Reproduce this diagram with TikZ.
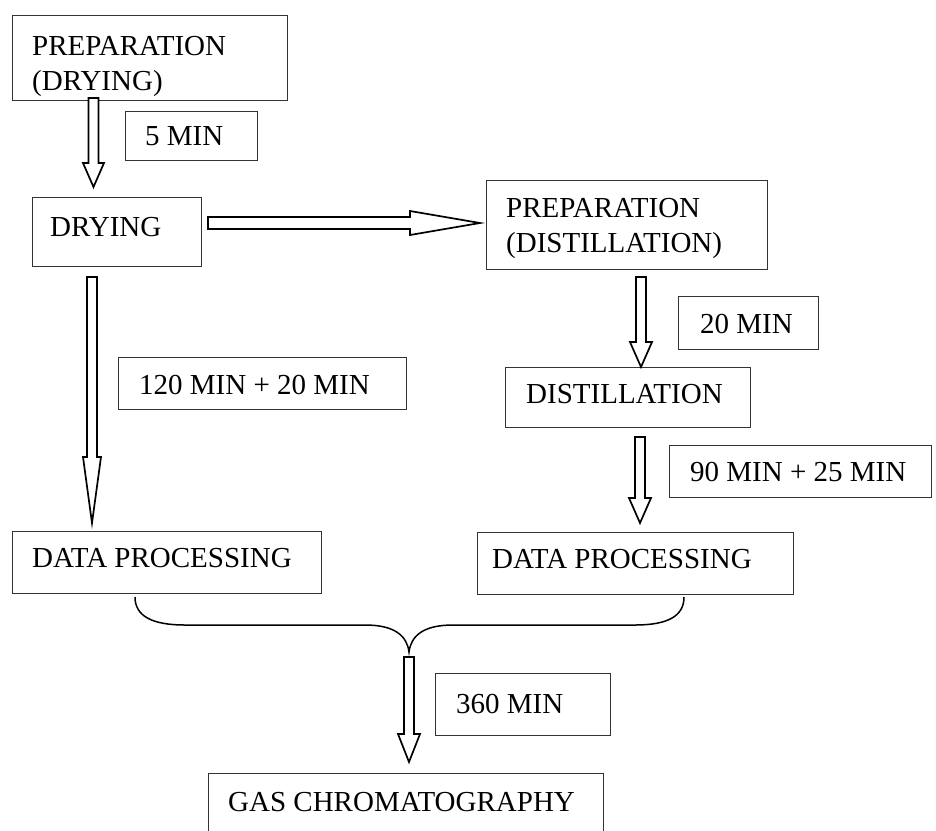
\documentclass[tikz,border=0pt]{standalone}
\usepackage{fontspec}
\setmainfont{Liberation Serif}
\usetikzlibrary{calc}
\tikzset{
  box/.style={draw=black!80, line width=1.1pt, inner sep=0pt, anchor=north west},
  lbl/.style={inner sep=0pt, anchor=base west, font=\fontsize{29}{35}\selectfont},
  mlbl/.style={inner sep=0pt, anchor=north west, align=left, font=\fontsize{29}{35}\selectfont},
  blk/.style={draw=black, line width=1.7pt, fill=white, line join=miter},
  bracestyle/.style={draw=black, line width=1.5pt}
}
\newcommand\vblock[4]{%
  \draw[blk] let \p1=(#1), \p2=(#2) in
    (\x1-5pt,\y1) -- (\x1-5pt,\y2+#3) -- (\x1-#4,\y2+#3) -- (\x1,\y2)
    -- (\x1+#4,\y2+#3) -- (\x1+5pt,\y2+#3) -- (\x1+5pt,\y1) -- cycle;}
\begin{document}
\begin{tikzpicture}[x=1pt,y=-1pt]
\useasboundingbox (0,0) rectangle (936,830);
% boxes
\node[box, minimum width=275pt, minimum height=85pt] (b1) at (12,15) {};
\node[mlbl] (t1) at (32,36) {PREPARATION\\(DRYING)};
\node[box, minimum width=132pt, minimum height=49pt] (m1) at (125,111) {};
\node[lbl] (tm1) at (145,145) {5 MIN};
\node[box, minimum width=169pt, minimum height=69pt] (b2) at (32,197) {};
\node[lbl] (t2) at (50,236) {DRYING};
\node[box, minimum width=281pt, minimum height=89pt] (b3) at (486,180) {};
\node[mlbl] (t3) at (506,198) {PREPARATION\\(DISTILLATION)};
\node[box, minimum width=140pt, minimum height=53pt] (m2) at (678,296) {};
\node[lbl] (tm2) at (700,333) {20 MIN};
\node[box, minimum width=245pt, minimum height=60pt] (b4) at (505,367) {};
\node[lbl] (t4) at (526,403) {DISTILLATION};
\node[box, minimum width=262pt, minimum height=52pt] (m3) at (669,445) {};
\node[lbl] (tm3) at (690,481) {90 MIN + 25 MIN};
\node[box, minimum width=288pt, minimum height=52pt] (m4) at (118,357) {};
\node[lbl] (tm4) at (139,394) {120 MIN + 20 MIN};
\node[box, minimum width=309pt, minimum height=62pt] (b5) at (12,531) {};
\node[lbl] (t5) at (32,567) {DATA PROCESSING};
\node[box, minimum width=316pt, minimum height=62pt] (b6) at (477,532) {};
\node[lbl] (t6) at (492,568) {DATA PROCESSING};
\node[box, minimum width=175pt, minimum height=62pt] (m5) at (435,673) {};
\node[lbl] (tm5) at (456,713) {360 MIN};
\node[box, minimum width=395pt, minimum height=80pt] (b7) at (208,773) {};
\node[lbl] (t7) at (228,811) {GAS CHROMATOGRAPHY};
% arrow end points
\coordinate (a1s) at (93.5,98);  \coordinate (a1e) at (93.5,187);
\coordinate (a2s) at (92,277);   \coordinate (a2e) at (92,523);
\coordinate (a3s) at (641,277);  \coordinate (a3e) at (641,367);
\coordinate (a4s) at (640,437);  \coordinate (a4e) at (640,523);
\coordinate (a5s) at (409,657);  \coordinate (a5e) at (409,762);
\coordinate (h1s) at (208,223);  \coordinate (h1e) at (480,223);
% vertical block arrows
\vblock{a1s}{a1e}{24pt}{10.5pt}
\vblock{a2s}{a2e}{66pt}{9pt}
\vblock{a3s}{a3e}{25pt}{11pt}
\vblock{a4s}{a4e}{25pt}{11pt}
\vblock{a5s}{a5e}{28pt}{11pt}
% horizontal block arrow
\draw[blk] let \p1=(h1s), \p2=(h1e) in
  (\x1,\y1+6pt) -- (\x2-70pt,\y1+6pt) -- (\x2-70pt,\y1+12pt) -- (\x2,\y1)
  -- (\x2-70pt,\y1-12pt) -- (\x2-70pt,\y1-6pt) -- (\x1,\y1-6pt) -- cycle;
% brace
\coordinate (brL) at (135,597);
\coordinate (brT) at (409,652);
\coordinate (brR) at (684,597);
\draw[bracestyle] (brL) .. controls (135,616) and (152,625) .. (185,625)
  -- (365,625) .. controls (395,625) and (407,636) .. (brT)
  .. controls (411,636) and (423,625) .. (453,625)
  -- (635,625) .. controls (668,625) and (684,616) .. (brR);
\end{tikzpicture}
\end{document}
